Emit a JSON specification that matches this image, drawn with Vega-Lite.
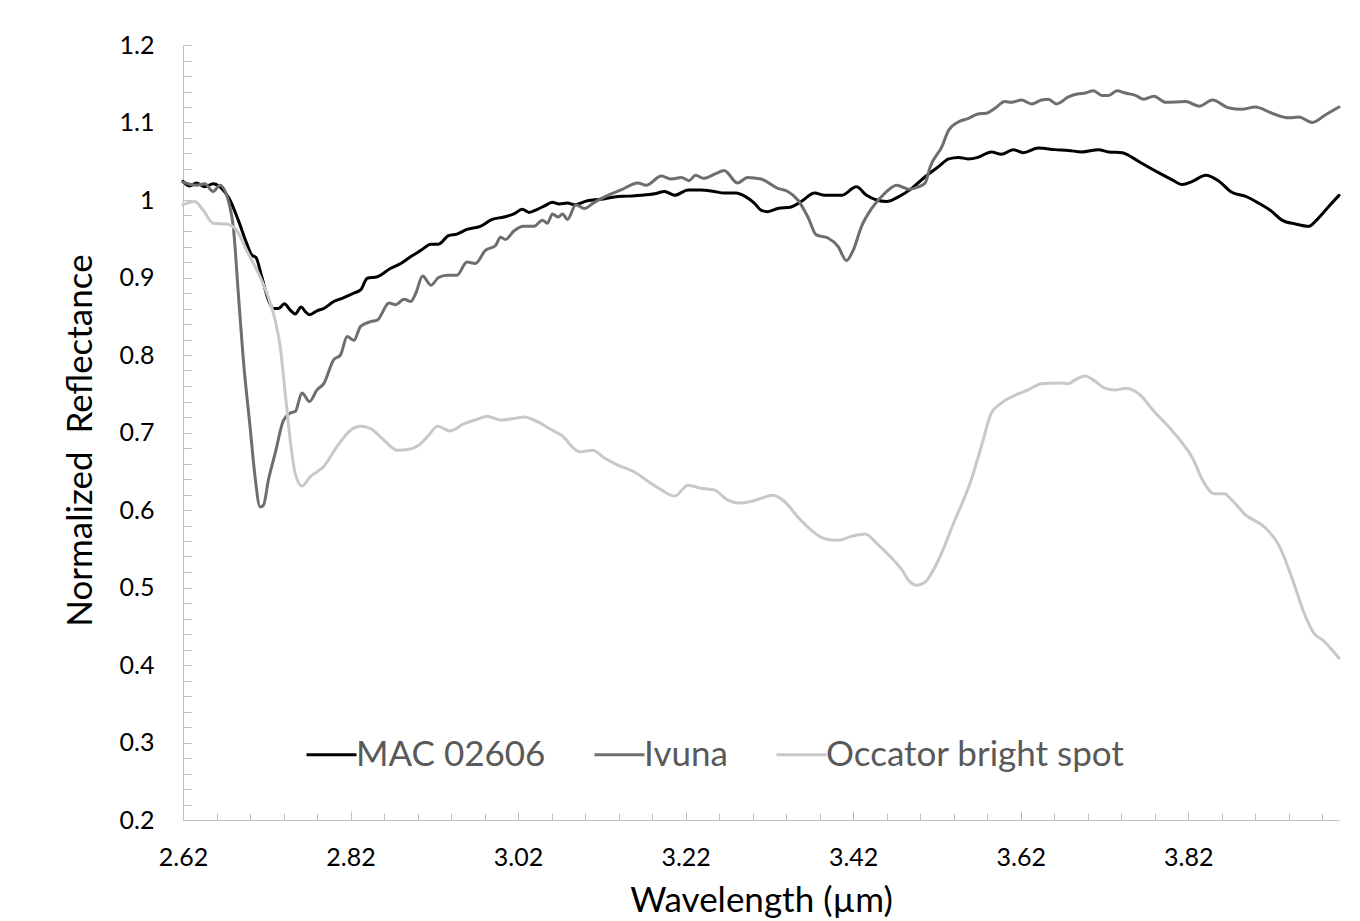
{
  "$schema": "https://vega.github.io/schema/vega-lite/v6.json",
  "width": 1156,
  "height": 775,
  "autosize": {"type": "none"},
  "padding": {"left": 183, "top": 45, "right": 21, "bottom": 101},
  "background": "white",
  "config": {
    "view": {"stroke": null},
    "font": "Lato",
    "axis": {
      "grid": false,
      "domainColor": "#bfbfbf",
      "domainWidth": 1,
      "tickColor": "#bfbfbf",
      "tickWidth": 1,
      "labelFont": "Lato",
      "titleFont": "Lato",
      "labelColor": "#000000",
      "titleColor": "#000000",
      "titleFontWeight": "normal",
      "labelFlush": false
    }
  },
  "datasets": {
    "mac": [
      {"wavelength": 2.620, "reflectance": 1.024}, {"wavelength": 2.628, "reflectance": 1.018},
      {"wavelength": 2.636, "reflectance": 1.022}, {"wavelength": 2.646, "reflectance": 1.017},
      {"wavelength": 2.656, "reflectance": 1.021}, {"wavelength": 2.664, "reflectance": 1.017},
      {"wavelength": 2.676, "reflectance": 1.000}, {"wavelength": 2.686, "reflectance": 0.974},
      {"wavelength": 2.696, "reflectance": 0.944}, {"wavelength": 2.702, "reflectance": 0.929},
      {"wavelength": 2.707, "reflectance": 0.926}, {"wavelength": 2.714, "reflectance": 0.901},
      {"wavelength": 2.722, "reflectance": 0.871}, {"wavelength": 2.728, "reflectance": 0.860},
      {"wavelength": 2.734, "reflectance": 0.860}, {"wavelength": 2.741, "reflectance": 0.866},
      {"wavelength": 2.748, "reflectance": 0.858}, {"wavelength": 2.754, "reflectance": 0.853},
      {"wavelength": 2.761, "reflectance": 0.862}, {"wavelength": 2.766, "reflectance": 0.856},
      {"wavelength": 2.771, "reflectance": 0.852}, {"wavelength": 2.780, "reflectance": 0.857},
      {"wavelength": 2.788, "reflectance": 0.860}, {"wavelength": 2.800, "reflectance": 0.869},
      {"wavelength": 2.812, "reflectance": 0.874}, {"wavelength": 2.824, "reflectance": 0.880},
      {"wavelength": 2.832, "reflectance": 0.884}, {"wavelength": 2.840, "reflectance": 0.899},
      {"wavelength": 2.852, "reflectance": 0.901}, {"wavelength": 2.868, "reflectance": 0.912},
      {"wavelength": 2.880, "reflectance": 0.918}, {"wavelength": 2.892, "reflectance": 0.927},
      {"wavelength": 2.904, "reflectance": 0.935}, {"wavelength": 2.916, "reflectance": 0.943},
      {"wavelength": 2.925, "reflectance": 0.943}, {"wavelength": 2.937, "reflectance": 0.954},
      {"wavelength": 2.947, "reflectance": 0.956}, {"wavelength": 2.959, "reflectance": 0.962},
      {"wavelength": 2.975, "reflectance": 0.966}, {"wavelength": 2.989, "reflectance": 0.975},
      {"wavelength": 3.003, "reflectance": 0.978}, {"wavelength": 3.015, "reflectance": 0.982},
      {"wavelength": 3.025, "reflectance": 0.988}, {"wavelength": 3.033, "reflectance": 0.984},
      {"wavelength": 3.043, "reflectance": 0.988}, {"wavelength": 3.051, "reflectance": 0.992},
      {"wavelength": 3.061, "reflectance": 0.997}, {"wavelength": 3.069, "reflectance": 0.995},
      {"wavelength": 3.079, "reflectance": 0.996}, {"wavelength": 3.087, "reflectance": 0.994},
      {"wavelength": 3.103, "reflectance": 0.999}, {"wavelength": 3.119, "reflectance": 1.001},
      {"wavelength": 3.135, "reflectance": 1.004}, {"wavelength": 3.151, "reflectance": 1.005},
      {"wavelength": 3.167, "reflectance": 1.006}, {"wavelength": 3.183, "reflectance": 1.008},
      {"wavelength": 3.195, "reflectance": 1.011}, {"wavelength": 3.207, "reflectance": 1.006},
      {"wavelength": 3.223, "reflectance": 1.013}, {"wavelength": 3.238, "reflectance": 1.013},
      {"wavelength": 3.254, "reflectance": 1.011}, {"wavelength": 3.266, "reflectance": 1.009},
      {"wavelength": 3.280, "reflectance": 1.009}, {"wavelength": 3.292, "reflectance": 1.004},
      {"wavelength": 3.302, "reflectance": 0.996}, {"wavelength": 3.310, "reflectance": 0.987},
      {"wavelength": 3.318, "reflectance": 0.985}, {"wavelength": 3.330, "reflectance": 0.989},
      {"wavelength": 3.346, "reflectance": 0.991}, {"wavelength": 3.358, "reflectance": 0.998},
      {"wavelength": 3.374, "reflectance": 1.009}, {"wavelength": 3.386, "reflectance": 1.006},
      {"wavelength": 3.406, "reflectance": 1.006}, {"wavelength": 3.424, "reflectance": 1.017},
      {"wavelength": 3.436, "reflectance": 1.006}, {"wavelength": 3.448, "reflectance": 1.000},
      {"wavelength": 3.460, "reflectance": 0.998}, {"wavelength": 3.474, "reflectance": 1.004},
      {"wavelength": 3.490, "reflectance": 1.015}, {"wavelength": 3.506, "reflectance": 1.030},
      {"wavelength": 3.522, "reflectance": 1.043}, {"wavelength": 3.534, "reflectance": 1.053},
      {"wavelength": 3.546, "reflectance": 1.055}, {"wavelength": 3.557, "reflectance": 1.053},
      {"wavelength": 3.569, "reflectance": 1.055}, {"wavelength": 3.585, "reflectance": 1.062},
      {"wavelength": 3.597, "reflectance": 1.059}, {"wavelength": 3.611, "reflectance": 1.065},
      {"wavelength": 3.623, "reflectance": 1.061}, {"wavelength": 3.641, "reflectance": 1.067},
      {"wavelength": 3.661, "reflectance": 1.065}, {"wavelength": 3.677, "reflectance": 1.064},
      {"wavelength": 3.693, "reflectance": 1.062}, {"wavelength": 3.713, "reflectance": 1.065},
      {"wavelength": 3.725, "reflectance": 1.062}, {"wavelength": 3.741, "reflectance": 1.061},
      {"wavelength": 3.753, "reflectance": 1.055}, {"wavelength": 3.765, "reflectance": 1.047},
      {"wavelength": 3.785, "reflectance": 1.035}, {"wavelength": 3.801, "reflectance": 1.026},
      {"wavelength": 3.813, "reflectance": 1.020}, {"wavelength": 3.825, "reflectance": 1.024},
      {"wavelength": 3.841, "reflectance": 1.032}, {"wavelength": 3.857, "reflectance": 1.024},
      {"wavelength": 3.872, "reflectance": 1.010}, {"wavelength": 3.888, "reflectance": 1.005},
      {"wavelength": 3.904, "reflectance": 0.996}, {"wavelength": 3.920, "reflectance": 0.985},
      {"wavelength": 3.932, "reflectance": 0.974}, {"wavelength": 3.948, "reflectance": 0.969},
      {"wavelength": 3.964, "reflectance": 0.966}, {"wavelength": 3.974, "reflectance": 0.975},
      {"wavelength": 3.988, "reflectance": 0.992}, {"wavelength": 4.000, "reflectance": 1.006}
    ],
    "ivuna": [
      {"wavelength": 2.620, "reflectance": 1.023}, {"wavelength": 2.636, "reflectance": 1.019},
      {"wavelength": 2.646, "reflectance": 1.021}, {"wavelength": 2.656, "reflectance": 1.011},
      {"wavelength": 2.664, "reflectance": 1.019}, {"wavelength": 2.676, "reflectance": 0.991},
      {"wavelength": 2.680, "reflectance": 0.966}, {"wavelength": 2.686, "reflectance": 0.880},
      {"wavelength": 2.692, "reflectance": 0.794}, {"wavelength": 2.700, "reflectance": 0.708},
      {"wavelength": 2.706, "reflectance": 0.643}, {"wavelength": 2.712, "reflectance": 0.604},
      {"wavelength": 2.716, "reflectance": 0.606}, {"wavelength": 2.722, "reflectance": 0.639},
      {"wavelength": 2.730, "reflectance": 0.673}, {"wavelength": 2.740, "reflectance": 0.716},
      {"wavelength": 2.748, "reflectance": 0.725}, {"wavelength": 2.754, "reflectance": 0.727},
      {"wavelength": 2.762, "reflectance": 0.751}, {"wavelength": 2.771, "reflectance": 0.740},
      {"wavelength": 2.780, "reflectance": 0.755}, {"wavelength": 2.788, "reflectance": 0.763},
      {"wavelength": 2.800, "reflectance": 0.794}, {"wavelength": 2.808, "reflectance": 0.800},
      {"wavelength": 2.816, "reflectance": 0.824}, {"wavelength": 2.824, "reflectance": 0.819},
      {"wavelength": 2.832, "reflectance": 0.837}, {"wavelength": 2.844, "reflectance": 0.843},
      {"wavelength": 2.852, "reflectance": 0.845}, {"wavelength": 2.866, "reflectance": 0.867},
      {"wavelength": 2.874, "reflectance": 0.865}, {"wavelength": 2.884, "reflectance": 0.872},
      {"wavelength": 2.892, "reflectance": 0.869}, {"wavelength": 2.898, "reflectance": 0.880},
      {"wavelength": 2.906, "reflectance": 0.902}, {"wavelength": 2.916, "reflectance": 0.890},
      {"wavelength": 2.925, "reflectance": 0.900}, {"wavelength": 2.935, "reflectance": 0.903},
      {"wavelength": 2.947, "reflectance": 0.903}, {"wavelength": 2.959, "reflectance": 0.920},
      {"wavelength": 2.969, "reflectance": 0.918}, {"wavelength": 2.981, "reflectance": 0.935},
      {"wavelength": 2.993, "reflectance": 0.941}, {"wavelength": 2.999, "reflectance": 0.952},
      {"wavelength": 3.005, "reflectance": 0.949}, {"wavelength": 3.015, "reflectance": 0.960},
      {"wavelength": 3.027, "reflectance": 0.966}, {"wavelength": 3.039, "reflectance": 0.966},
      {"wavelength": 3.049, "reflectance": 0.974}, {"wavelength": 3.055, "reflectance": 0.970},
      {"wavelength": 3.061, "reflectance": 0.982}, {"wavelength": 3.068, "reflectance": 0.978},
      {"wavelength": 3.073, "reflectance": 0.982}, {"wavelength": 3.079, "reflectance": 0.975},
      {"wavelength": 3.089, "reflectance": 0.994}, {"wavelength": 3.099, "reflectance": 0.989},
      {"wavelength": 3.111, "reflectance": 0.997}, {"wavelength": 3.127, "reflectance": 1.006},
      {"wavelength": 3.143, "reflectance": 1.013}, {"wavelength": 3.163, "reflectance": 1.022},
      {"wavelength": 3.173, "reflectance": 1.019}, {"wavelength": 3.191, "reflectance": 1.031},
      {"wavelength": 3.203, "reflectance": 1.027}, {"wavelength": 3.215, "reflectance": 1.029},
      {"wavelength": 3.224, "reflectance": 1.025}, {"wavelength": 3.232, "reflectance": 1.032},
      {"wavelength": 3.241, "reflectance": 1.028}, {"wavelength": 3.256, "reflectance": 1.034},
      {"wavelength": 3.266, "reflectance": 1.038}, {"wavelength": 3.282, "reflectance": 1.022},
      {"wavelength": 3.294, "reflectance": 1.029}, {"wavelength": 3.310, "reflectance": 1.027},
      {"wavelength": 3.330, "reflectance": 1.015}, {"wavelength": 3.342, "reflectance": 1.011},
      {"wavelength": 3.354, "reflectance": 1.000}, {"wavelength": 3.366, "reflectance": 0.978},
      {"wavelength": 3.376, "reflectance": 0.955}, {"wavelength": 3.390, "reflectance": 0.951},
      {"wavelength": 3.402, "reflectance": 0.940}, {"wavelength": 3.412, "reflectance": 0.922},
      {"wavelength": 3.420, "reflectance": 0.935}, {"wavelength": 3.430, "reflectance": 0.966},
      {"wavelength": 3.442, "reflectance": 0.989}, {"wavelength": 3.458, "reflectance": 1.009},
      {"wavelength": 3.472, "reflectance": 1.019}, {"wavelength": 3.486, "reflectance": 1.014},
      {"wavelength": 3.498, "reflectance": 1.017}, {"wavelength": 3.506, "reflectance": 1.022},
      {"wavelength": 3.512, "reflectance": 1.043}, {"wavelength": 3.526, "reflectance": 1.069},
      {"wavelength": 3.534, "reflectance": 1.090}, {"wavelength": 3.546, "reflectance": 1.101},
      {"wavelength": 3.557, "reflectance": 1.105}, {"wavelength": 3.569, "reflectance": 1.111},
      {"wavelength": 3.579, "reflectance": 1.112}, {"wavelength": 3.589, "reflectance": 1.118},
      {"wavelength": 3.601, "reflectance": 1.127}, {"wavelength": 3.609, "reflectance": 1.126},
      {"wavelength": 3.621, "reflectance": 1.129}, {"wavelength": 3.633, "reflectance": 1.124},
      {"wavelength": 3.645, "reflectance": 1.129}, {"wavelength": 3.653, "reflectance": 1.130},
      {"wavelength": 3.663, "reflectance": 1.124}, {"wavelength": 3.677, "reflectance": 1.133},
      {"wavelength": 3.689, "reflectance": 1.137}, {"wavelength": 3.697, "reflectance": 1.138},
      {"wavelength": 3.707, "reflectance": 1.141}, {"wavelength": 3.717, "reflectance": 1.135},
      {"wavelength": 3.725, "reflectance": 1.135}, {"wavelength": 3.735, "reflectance": 1.141},
      {"wavelength": 3.745, "reflectance": 1.138}, {"wavelength": 3.757, "reflectance": 1.135},
      {"wavelength": 3.767, "reflectance": 1.130}, {"wavelength": 3.779, "reflectance": 1.134},
      {"wavelength": 3.793, "reflectance": 1.126}, {"wavelength": 3.817, "reflectance": 1.127},
      {"wavelength": 3.833, "reflectance": 1.121}, {"wavelength": 3.849, "reflectance": 1.129},
      {"wavelength": 3.868, "reflectance": 1.119}, {"wavelength": 3.884, "reflectance": 1.117},
      {"wavelength": 3.900, "reflectance": 1.120}, {"wavelength": 3.920, "reflectance": 1.112},
      {"wavelength": 3.940, "reflectance": 1.106}, {"wavelength": 3.952, "reflectance": 1.107},
      {"wavelength": 3.968, "reflectance": 1.100}, {"wavelength": 3.984, "reflectance": 1.110},
      {"wavelength": 4.000, "reflectance": 1.120}
    ],
    "occator": [
      {"wavelength": 2.620, "reflectance": 0.994}, {"wavelength": 2.634, "reflectance": 0.998},
      {"wavelength": 2.644, "reflectance": 0.987}, {"wavelength": 2.656, "reflectance": 0.970},
      {"wavelength": 2.672, "reflectance": 0.969}, {"wavelength": 2.684, "reflectance": 0.961},
      {"wavelength": 2.696, "reflectance": 0.935}, {"wavelength": 2.708, "reflectance": 0.910},
      {"wavelength": 2.720, "reflectance": 0.880}, {"wavelength": 2.730, "reflectance": 0.845},
      {"wavelength": 2.736, "reflectance": 0.811}, {"wavelength": 2.742, "reflectance": 0.751},
      {"wavelength": 2.748, "reflectance": 0.690}, {"wavelength": 2.754, "reflectance": 0.647},
      {"wavelength": 2.762, "reflectance": 0.631}, {"wavelength": 2.772, "reflectance": 0.643},
      {"wavelength": 2.788, "reflectance": 0.656}, {"wavelength": 2.804, "reflectance": 0.682},
      {"wavelength": 2.820, "reflectance": 0.703}, {"wavelength": 2.832, "reflectance": 0.708},
      {"wavelength": 2.844, "reflectance": 0.705}, {"wavelength": 2.860, "reflectance": 0.690},
      {"wavelength": 2.876, "reflectance": 0.677}, {"wavelength": 2.888, "reflectance": 0.678},
      {"wavelength": 2.902, "reflectance": 0.684}, {"wavelength": 2.912, "reflectance": 0.695},
      {"wavelength": 2.924, "reflectance": 0.708}, {"wavelength": 2.939, "reflectance": 0.702},
      {"wavelength": 2.955, "reflectance": 0.711}, {"wavelength": 2.971, "reflectance": 0.717},
      {"wavelength": 2.983, "reflectance": 0.721}, {"wavelength": 2.999, "reflectance": 0.716},
      {"wavelength": 3.015, "reflectance": 0.718}, {"wavelength": 3.027, "reflectance": 0.720},
      {"wavelength": 3.043, "reflectance": 0.714}, {"wavelength": 3.059, "reflectance": 0.704},
      {"wavelength": 3.071, "reflectance": 0.697}, {"wavelength": 3.094, "reflectance": 0.675},
      {"wavelength": 3.109, "reflectance": 0.677}, {"wavelength": 3.123, "reflectance": 0.667},
      {"wavelength": 3.139, "reflectance": 0.658}, {"wavelength": 3.159, "reflectance": 0.649},
      {"wavelength": 3.175, "reflectance": 0.637}, {"wavelength": 3.191, "reflectance": 0.626},
      {"wavelength": 3.207, "reflectance": 0.618}, {"wavelength": 3.223, "reflectance": 0.632},
      {"wavelength": 3.238, "reflectance": 0.628}, {"wavelength": 3.254, "reflectance": 0.626},
      {"wavelength": 3.270, "reflectance": 0.613}, {"wavelength": 3.284, "reflectance": 0.609},
      {"wavelength": 3.298, "reflectance": 0.611}, {"wavelength": 3.310, "reflectance": 0.615},
      {"wavelength": 3.324, "reflectance": 0.619}, {"wavelength": 3.338, "reflectance": 0.611},
      {"wavelength": 3.354, "reflectance": 0.591}, {"wavelength": 3.370, "reflectance": 0.574},
      {"wavelength": 3.386, "reflectance": 0.563}, {"wavelength": 3.402, "reflectance": 0.561},
      {"wavelength": 3.418, "reflectance": 0.566}, {"wavelength": 3.434, "reflectance": 0.569},
      {"wavelength": 3.450, "reflectance": 0.555}, {"wavelength": 3.466, "reflectance": 0.538},
      {"wavelength": 3.478, "reflectance": 0.523}, {"wavelength": 3.488, "reflectance": 0.507},
      {"wavelength": 3.496, "reflectance": 0.503}, {"wavelength": 3.506, "reflectance": 0.507},
      {"wavelength": 3.518, "reflectance": 0.527}, {"wavelength": 3.529, "reflectance": 0.553},
      {"wavelength": 3.538, "reflectance": 0.578}, {"wavelength": 3.561, "reflectance": 0.639},
      {"wavelength": 3.573, "reflectance": 0.682}, {"wavelength": 3.585, "reflectance": 0.725},
      {"wavelength": 3.597, "reflectance": 0.738}, {"wavelength": 3.613, "reflectance": 0.748},
      {"wavelength": 3.629, "reflectance": 0.755}, {"wavelength": 3.645, "reflectance": 0.763},
      {"wavelength": 3.665, "reflectance": 0.764}, {"wavelength": 3.677, "reflectance": 0.763},
      {"wavelength": 3.685, "reflectance": 0.768}, {"wavelength": 3.697, "reflectance": 0.773},
      {"wavelength": 3.709, "reflectance": 0.766}, {"wavelength": 3.721, "reflectance": 0.757},
      {"wavelength": 3.733, "reflectance": 0.755}, {"wavelength": 3.745, "reflectance": 0.757},
      {"wavelength": 3.757, "reflectance": 0.753}, {"wavelength": 3.765, "reflectance": 0.746},
      {"wavelength": 3.777, "reflectance": 0.730}, {"wavelength": 3.801, "reflectance": 0.702},
      {"wavelength": 3.825, "reflectance": 0.667}, {"wavelength": 3.839, "reflectance": 0.635},
      {"wavelength": 3.851, "reflectance": 0.621}, {"wavelength": 3.863, "reflectance": 0.621},
      {"wavelength": 3.872, "reflectance": 0.613}, {"wavelength": 3.888, "reflectance": 0.594},
      {"wavelength": 3.912, "reflectance": 0.577}, {"wavelength": 3.928, "reflectance": 0.555},
      {"wavelength": 3.944, "reflectance": 0.512}, {"wavelength": 3.958, "reflectance": 0.468},
      {"wavelength": 3.970, "reflectance": 0.441}, {"wavelength": 3.982, "reflectance": 0.431},
      {"wavelength": 3.992, "reflectance": 0.419}, {"wavelength": 4.000, "reflectance": 0.409}
    ]
  },
  "layer": [
    {
      "data": {"name": "mac"},
      "mark": {"type": "line", "strokeWidth": 3, "strokeJoin": "round", "strokeCap": "round", "interpolate": "monotone"},
      "encoding": {
        "x": {
          "field": "wavelength", "type": "quantitative",
          "scale": {"domain": [2.62, 4.0], "nice": false, "zero": false},
          "axis": {
            "orient": "bottom",
            "values": [2.62, 2.82, 3.02, 3.22, 3.42, 3.62, 3.82],
            "format": ".2f",
            "tickSize": -9,
            "labelPadding": 34,
            "labelFontSize": 25,
            "labelBaseline": "top",
            "title": "Wavelength (µm)",
            "titleFontSize": 35,
            "titleBaseline": "alphabetic",
            "titleX": 578,
            "titleY": 91
          }
        },
        "y": {
          "field": "reflectance", "type": "quantitative",
          "scale": {"domain": [0.2, 1.2], "nice": false, "zero": false},
          "axis": {
            "orient": "left",
            "values": [0.2, 0.3, 0.4, 0.5, 0.6, 0.7, 0.8, 0.9, 1.0, 1.1, 1.2],
            "format": ".2~f",
            "tickSize": -8,
            "labelPadding": 37,
            "labelFontSize": 25,
            "title": "Normalized \u00a0Reflectance",
            "titleFontSize": 35,
            "titleAngle": -90,
            "titleAlign": "center",
            "titleBaseline": "middle",
            "titleX": -103,
            "titleY": 395
          }
        },
        "color": {
          "datum": "MAC 02606", "type": "nominal",
          "scale": {
            "domain": ["MAC 02606", "Ivuna", "Occator bright spot"],
            "range": ["#000000", "#6e6e6e", "#c8c8c8"]
          },
          "legend": {
            "orient": "none",
            "direction": "horizontal",
            "legendX": 122,
            "legendY": 683,
            "title": null,
            "symbolType": "stroke",
            "symbolSize": 2500,
            "symbolStrokeWidth": 3,
            "labelFont": "Lato",
            "labelFontSize": 35,
            "labelColor": "#595959",
            "labelOffset": -2,
            "labelLimit": 0,
            "columnPadding": 42
          }
        }
      }
    },
    {
      "data": {"name": "ivuna"},
      "mark": {"type": "line", "strokeWidth": 3, "strokeJoin": "round", "strokeCap": "round", "interpolate": "monotone"},
      "encoding": {
        "x": {"field": "wavelength", "type": "quantitative", "axis": null},
        "y": {"field": "reflectance", "type": "quantitative", "axis": null},
        "color": {"datum": "Ivuna", "type": "nominal"}
      }
    },
    {
      "data": {"name": "occator"},
      "mark": {"type": "line", "strokeWidth": 3, "strokeJoin": "round", "strokeCap": "round", "interpolate": "monotone"},
      "encoding": {
        "x": {"field": "wavelength", "type": "quantitative", "axis": null},
        "y": {"field": "reflectance", "type": "quantitative", "axis": null},
        "color": {"datum": "Occator bright spot", "type": "nominal"}
      }
    },
    {
      "data": {"name": "mac"},
      "mark": {"type": "point", "opacity": 0},
      "encoding": {
        "x": {
          "field": "wavelength", "type": "quantitative",
          "axis": {
            "orient": "bottom",
            "values": [2.66, 2.70, 2.74, 2.78, 2.86, 2.90, 2.94, 2.98, 3.06, 3.10, 3.14, 3.18, 3.26, 3.30, 3.34, 3.38, 3.46, 3.50, 3.54, 3.58, 3.66, 3.70, 3.74, 3.78, 3.86, 3.90, 3.94, 3.98],
            "domain": false,
            "labels": false,
            "title": null,
            "tickSize": -7
          }
        },
        "y": {
          "field": "reflectance", "type": "quantitative",
          "axis": {
            "orient": "left",
            "values": [0.22, 0.24, 0.26, 0.28, 0.32, 0.34, 0.36, 0.38, 0.42, 0.44, 0.46, 0.48, 0.52, 0.54, 0.56, 0.58, 0.62, 0.64, 0.66, 0.68, 0.72, 0.74, 0.76, 0.78, 0.82, 0.84, 0.86, 0.88, 0.92, 0.94, 0.96, 0.98, 1.02, 1.04, 1.06, 1.08, 1.12, 1.14, 1.16, 1.18],
            "domain": false,
            "labels": false,
            "title": null,
            "tickSize": -8
          }
        }
      }
    }
  ],
  "resolve": {"axis": {"x": "independent", "y": "independent"}}
}
